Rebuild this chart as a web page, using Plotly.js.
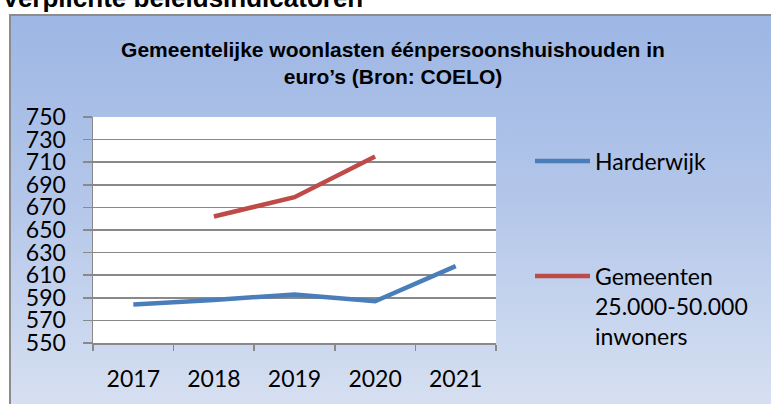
<!DOCTYPE html>
<html>
<head>
<meta charset="utf-8">
<script src="https://cdn.plot.ly/plotly-3.0.1.min.js"></script>
<style>
  html, body { margin: 0; padding: 0; background: #ffffff; overflow: hidden; }
  #frame {
    position: absolute; left: 9px; top: 14px; width: 800px; height: 420px;
    border: 2px solid #8c8c8c; box-sizing: border-box;
    background: linear-gradient(to bottom, #9db6e4 0%, #b4c7ea 45%, #dbe3f2 100%);
  }
  #chart { position: absolute; left: 0; top: 0; width: 771px; height: 404px; }
</style>
</head>
<body>
<div id="frame"></div>
<div id="chart"></div>
<script>
const years = ['2017', '2018', '2019', '2020', '2021'];
const harderwijk = [584, 588, 593, 587, 618];
const gemeenten = [null, 662, 679, 715, null];
const seriesNames = ['Harderwijk', 'Gemeenten<br>25.000-50.000<br>inwoners'];
const yTicks = [550, 570, 590, 610, 630, 650, 670, 690, 710, 730, 750];

const W = 771, H = 404;
const L = 93, R = 496, T = 117, B = 343.3;
const px = x => (x - L) / (R - L);
const py = y => (B - y) / (B - T);

const tickFont = { family: 'Lato, "Open Sans", sans-serif', size: 23, color: '#000000' };

const traces = [
  { x: years, y: harderwijk, name: seriesNames[0], type: 'scatter', mode: 'lines',
    line: { color: '#4a7ebb', width: 4.5 }, legend: 'legend', connectgaps: false },
  { x: years, y: gemeenten, name: seriesNames[1], type: 'scatter', mode: 'lines',
    line: { color: '#be4b48', width: 4.5 }, legend: 'legend2', connectgaps: false }
];

const legendBase = {
  font: tickFont, bgcolor: 'rgba(0,0,0,0)', borderwidth: 0,
  xref: 'container', yref: 'container', xanchor: 'left', yanchor: 'middle',
  itemwidth: 55, valign: 'top', itemclick: false
};

const layout = {
  width: W, height: H,
  paper_bgcolor: 'rgba(0,0,0,0)',
  plot_bgcolor: '#ffffff',
  margin: { l: L, r: W - R, t: T, b: H - B, pad: 0 },
  showlegend: true,
  title: {
    text: 'Gemeentelijke woonlasten éénpersoonshuishouden in<br>euro’s (Bron: COELO)',
    font: { family: '"Liberation Sans", Arial, sans-serif', size: 21, color: '#000000', weight: 'bold' },
    xref: 'container', yref: 'container', x: 393 / W, xanchor: 'center',
    y: 1 - 57 / H, yanchor: 'middle'
  },
  xaxis: {
    type: 'category', range: [-0.5, years.length - 0.5], tickson: 'boundaries',
    ticks: 'outside', ticklen: 6, tickwidth: 1.5,
    tickcolor: '#898989', showline: true, linecolor: '#898989', linewidth: 1.5,
    showgrid: false, zeroline: false, tickfont: tickFont, ticklabelstandoff: 15,
    fixedrange: true
  },
  yaxis: {
    range: [550, 750], tickvals: yTicks, ticks: 'outside', ticklen: 9, tickwidth: 1.5,
    tickcolor: '#898989', showline: true, linecolor: '#898989', linewidth: 1.5,
    showgrid: true, gridcolor: '#898989', gridwidth: 1.5, zeroline: false,
    tickfont: tickFont, ticklabelstandoff: 12, fixedrange: true
  },
  legend: Object.assign({}, legendBase, { x: 530 / W, y: 1 - 161 / H }),
  legend2: Object.assign({}, legendBase, { x: 530 / W, y: 1 - 306 / H }),
  annotations: [{
    text: '<b>Verplichte beleidsindicatoren</b>',
    xref: 'paper', yref: 'paper', x: px(0), y: py(-2),
    xanchor: 'left', yanchor: 'middle', showarrow: false,
    font: { family: '"Liberation Sans", Arial, sans-serif', size: 26, color: '#000000' }
  }]
};

Plotly.newPlot('chart', traces, layout, { displayModeBar: false, staticPlot: true });
</script>
</body>
</html>
